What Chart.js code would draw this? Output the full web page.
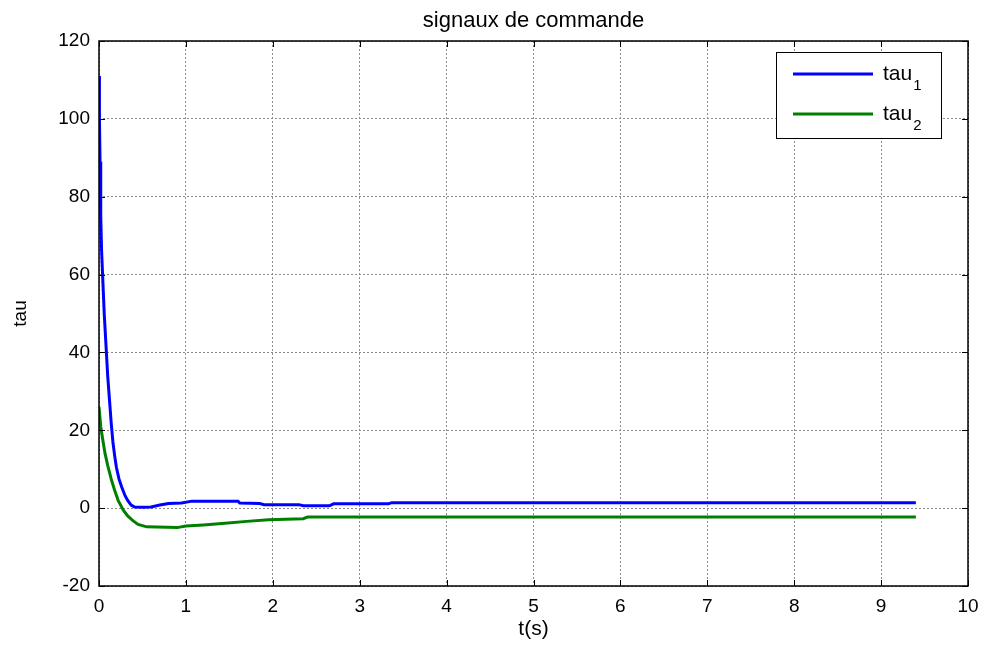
<!DOCTYPE html>
<html>
<head>
<meta charset="utf-8">
<script src="https://cdn.jsdelivr.net/npm/chart.js@4.4.1/dist/chart.umd.min.js"></script>
<style>
  html, body { margin: 0; padding: 0; background: #fff; }
  #wrap { width: 984px; height: 645px; }
</style>
</head>
<body>
<div id="wrap"><canvas id="chart"></canvas></div>
<script>
// tau1 (blue)
const tau1Time = [0, 0.005, 0.012, 0.02, 0.03, 0.045, 0.06, 0.08, 0.1, 0.12, 0.14, 0.16, 0.18, 0.2, 0.23, 0.26, 0.3, 0.33, 0.37, 0.41, 0.5, 0.6, 0.7, 0.8, 0.95, 1.07, 1.6, 1.62, 1.85, 1.9, 2.3, 2.35, 2.65, 2.7, 3.33, 3.37, 9.4];
const tau1Values = [111, 100, 89, 75, 66, 58, 50, 42, 34, 28, 22, 17, 13.5, 10.5, 7.5, 5.5, 3.2, 2, 0.8, 0.3, 0.2, 0.3, 0.8, 1.2, 1.3, 1.8, 1.8, 1.3, 1.2, 0.9, 0.9, 0.6, 0.6, 1.1, 1.1, 1.4, 1.4];

// tau2 (green)
const tau2Time = [0, 0.02, 0.04, 0.07, 0.1, 0.14, 0.18, 0.22, 0.28, 0.33, 0.39, 0.45, 0.55, 0.9, 1.0, 1.2, 1.45, 1.7, 1.95, 2.35, 2.4, 9.4];
const tau2Values = [26, 21, 18, 14, 11, 7.5, 4.6, 2, -0.5, -2, -3.2, -4.2, -4.8, -5, -4.6, -4.3, -3.9, -3.4, -3, -2.7, -2.3, -2.3];

const seriesLabels = ['tau_1', 'tau_2'];
const xTicks = [0, 1, 2, 3, 4, 5, 6, 7, 8, 9, 10];
const yTicks = [-20, 0, 20, 40, 60, 80, 100, 120];

const FONT = '"Liberation Sans", Arial, sans-serif';

function toPoints(xs, ys) {
  return xs.map((x, i) => ({ x: x, y: ys[i] }));
}

// matlab style box, inward ticks, title and legend
const matlabFrame = {
  id: 'matlabFrame',
  afterDraw(chart) {
    const ctx = chart.ctx;
    const { left, right, top, bottom } = chart.chartArea;
    const xs = chart.scales.x, ys = chart.scales.y;
    ctx.save();

    ctx.strokeStyle = '#000';
    ctx.lineWidth = 1;
    ctx.beginPath();
    xTicks.forEach(v => {
      const px = Math.round(xs.getPixelForValue(v)) + 0.5;
      ctx.moveTo(px, bottom); ctx.lineTo(px, bottom - 6);
      ctx.moveTo(px, top); ctx.lineTo(px, top + 6);
    });
    yTicks.forEach(v => {
      const py = Math.round(ys.getPixelForValue(v)) + 0.5;
      ctx.moveTo(left, py); ctx.lineTo(left + 6, py);
      ctx.moveTo(right, py); ctx.lineTo(right - 6, py);
    });
    ctx.stroke();

    ctx.lineWidth = 1.5;
    ctx.strokeRect(left, top, right - left, bottom - top);

    // title
    ctx.fillStyle = '#000';
    ctx.font = '22px ' + FONT;
    ctx.textAlign = 'center';
    ctx.textBaseline = 'alphabetic';
    ctx.fillText('signaux de commande', (left + right) / 2, 27);

    // legend
    const bx = right - 192, by = top + 11, bw = 165, bh = 86;
    ctx.fillStyle = '#fff';
    ctx.fillRect(bx, by, bw, bh);
    ctx.lineWidth = 1;
    ctx.strokeStyle = '#000';
    ctx.strokeRect(bx + 0.5, by + 0.5, bw, bh);
    chart.data.datasets.forEach((ds, i) => {
      const ly = by + 22 + i * 40;
      ctx.strokeStyle = ds.borderColor;
      ctx.lineWidth = 3;
      ctx.beginPath();
      ctx.moveTo(bx + 17, ly);
      ctx.lineTo(bx + 97, ly);
      ctx.stroke();
      const parts = ds.label.split('_');
      ctx.fillStyle = '#000';
      ctx.textAlign = 'left';
      ctx.textBaseline = 'alphabetic';
      ctx.font = '21px ' + FONT;
      ctx.fillText(parts[0], bx + 107, ly + 6);
      const w = ctx.measureText(parts[0]).width;
      ctx.font = '15px ' + FONT;
      ctx.fillText(parts[1], bx + 108 + w, ly + 16);
    });

    ctx.restore();
  }
};

const ctx = document.getElementById('chart').getContext('2d');
const chart = new Chart(ctx, {
  type: 'line',
  data: {
    datasets: [{
      label: seriesLabels[0],
      data: toPoints(tau1Time, tau1Values),
      borderColor: '#0000ff',
      borderWidth: 3,
      pointRadius: 0,
      fill: false,
      tension: 0
    }, {
      label: seriesLabels[1],
      data: toPoints(tau2Time, tau2Values),
      borderColor: '#008000',
      borderWidth: 3,
      pointRadius: 0,
      fill: false,
      tension: 0
    }]
  },
  options: {
    responsive: true,
    maintainAspectRatio: false,
    animation: false,
    layout: { padding: { top: 41, right: 16, bottom: 0, left: 0 } },
    plugins: {
      legend: { display: false },
      title: { display: false },
      tooltip: { enabled: false }
    },
    scales: {
      x: {
        type: 'linear',
        min: 0,
        max: 10,
        afterBuildTicks: scale => { scale.ticks = xTicks.map(v => ({ value: v })); },
        afterFit: scale => {
          scale.height = 59;
          scale.paddingLeft = 0;
          scale.paddingRight = 0;
        },
        grid: { color: '#8c8c8c', drawTicks: false },
        border: { display: false, dash: [2, 2] },
        ticks: { color: '#000', padding: 9, maxRotation: 0, font: { family: FONT, size: 19 } },
        title: { display: true, text: 't(s)', color: '#000', padding: { top: 0, bottom: 3 }, font: { family: FONT, size: 21 } }
      },
      y: {
        min: -20,
        max: 120,
        afterBuildTicks: scale => { scale.ticks = yTicks.map(v => ({ value: v })); },
        afterFit: scale => {
          scale.width = 99;
          scale.paddingTop = 0;
          scale.paddingBottom = 0;
        },
        grid: { color: '#8c8c8c', drawTicks: false },
        border: { display: false, dash: [2, 2] },
        ticks: { color: '#000', padding: 9, font: { family: FONT, size: 19 } },
        title: { display: true, text: 'tau', color: '#000', padding: { top: 9, bottom: 0 }, font: { family: FONT, size: 19 } }
      }
    }
  },
  plugins: [matlabFrame]
});
</script>
</body>
</html>
